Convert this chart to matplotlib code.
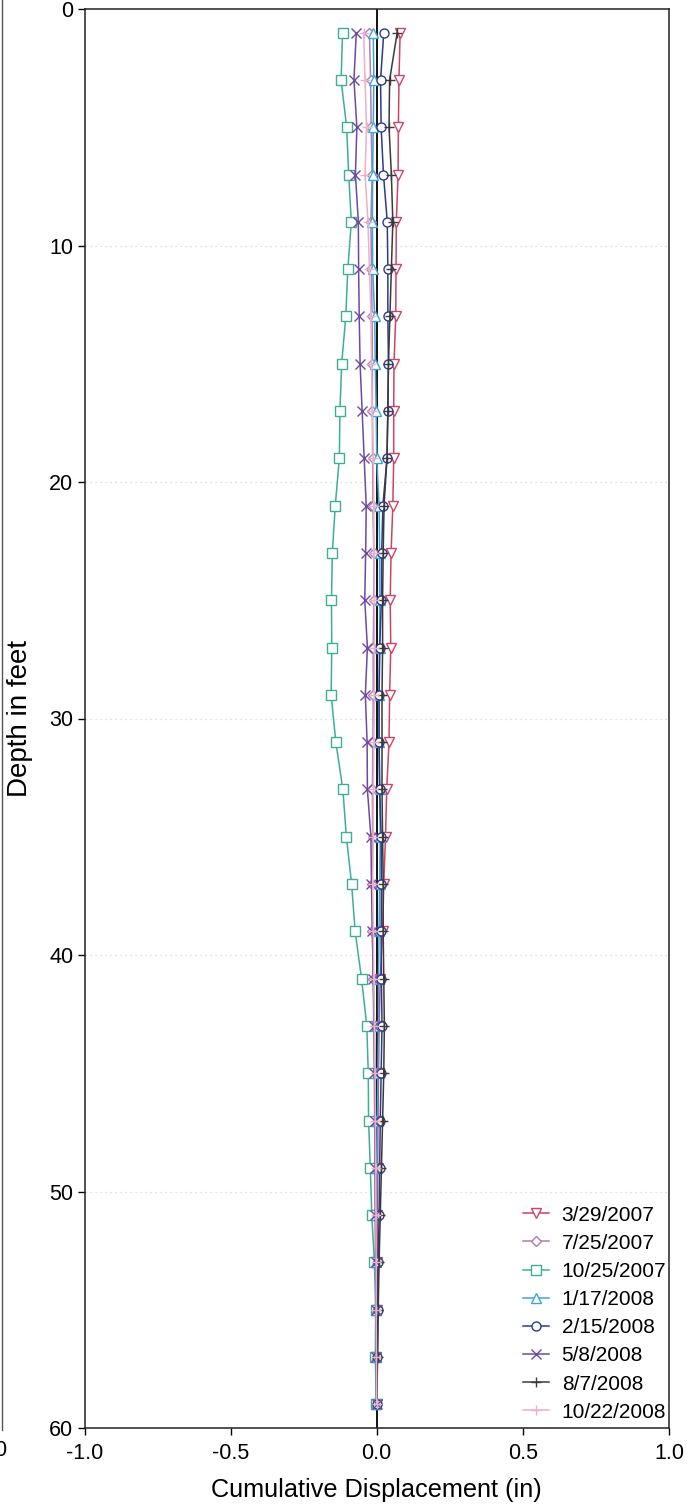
import matplotlib
matplotlib.use("Agg")
import matplotlib.pyplot as plt
from matplotlib.lines import Line2D
import numpy as np

plt.rcParams['font.family'] = ['Liberation Sans', 'DejaVu Sans']

depths = [1, 3, 5, 7, 9, 11, 13, 15, 17, 19, 21, 23, 25, 27, 29,
          31, 33, 35, 37, 39, 41, 43, 45, 47, 49, 51, 53, 55, 57, 59]

labels = ['3/29/2007', '7/25/2007', '10/25/2007', '1/17/2008',
          '2/15/2008', '5/8/2008', '8/7/2008', '10/22/2008']

s_3_29_2007 = [0.080, 0.076, 0.074, 0.073, 0.067, 0.066, 0.065, 0.059, 0.058, 0.058,
               0.055, 0.049, 0.046, 0.048, 0.044, 0.042, 0.034, 0.030, 0.024, 0.020,
               0.012, 0.008, 0.006, 0.004, 0.003, 0.002, 0.001, 0.000, -0.002, 0.000]
s_7_25_2007 = [-0.025, -0.021, -0.019, -0.016, -0.020, -0.018, -0.016, -0.015, -0.015, -0.014,
               -0.013, -0.010, -0.010, -0.012, -0.012, -0.013, -0.015, -0.014, -0.016, -0.015,
               -0.012, -0.008, -0.006, -0.005, -0.004, -0.004, -0.003, -0.002, -0.002, 0.000]
s_10_25_2007 = [-0.117, -0.122, -0.103, -0.096, -0.087, -0.099, -0.106, -0.120, -0.126, -0.128,
                -0.142, -0.152, -0.155, -0.154, -0.156, -0.140, -0.116, -0.104, -0.086, -0.074,
                -0.052, -0.034, -0.029, -0.028, -0.022, -0.017, -0.008, -0.003, -0.005, -0.001]
s_1_17_2008 = [-0.012, -0.010, -0.012, -0.014, -0.015, -0.014, -0.007, -0.005, -0.002, 0.000,
               0.008, 0.010, 0.010, 0.010, 0.008, 0.008, 0.010, 0.012, 0.010, 0.008,
               0.006, 0.006, 0.004, 0.002, 0.000, -0.002, -0.004, -0.004, -0.003, -0.002]
s_2_15_2008 = [0.024, 0.013, 0.015, 0.023, 0.036, 0.038, 0.038, 0.040, 0.038, 0.035,
               0.021, 0.017, 0.016, 0.010, 0.008, 0.008, 0.010, 0.015, 0.016, 0.015,
               0.016, 0.018, 0.015, 0.012, 0.010, 0.008, 0.005, 0.004, 0.002, 0.000]
s_5_8_2008 = [-0.070, -0.078, -0.068, -0.073, -0.063, -0.062, -0.060, -0.057, -0.050, -0.043,
              -0.036, -0.038, -0.041, -0.032, -0.039, -0.033, -0.032, -0.020, -0.018, -0.015,
              -0.012, -0.010, -0.008, -0.007, -0.006, -0.005, -0.004, -0.003, -0.002, 0.000]
s_8_7_2008 = [0.070, 0.044, 0.042, 0.050, 0.055, 0.050, 0.045, 0.040, 0.038, 0.035,
              0.025, 0.022, 0.020, 0.020, 0.018, 0.018, 0.018, 0.020, 0.022, 0.022,
              0.024, 0.026, 0.024, 0.020, 0.016, 0.012, 0.008, 0.005, 0.003, 0.000]
s_10_22_2008 = [-0.045, -0.040, -0.035, -0.040, -0.030, -0.025, -0.020, -0.018, -0.015, -0.012,
                -0.010, -0.010, -0.008, -0.008, -0.008, -0.010, -0.012, -0.012, -0.014, -0.012,
                -0.010, -0.008, -0.006, -0.005, -0.004, -0.003, -0.002, -0.002, -0.001, 0.000]

series = [s_3_29_2007, s_7_25_2007, s_10_25_2007, s_1_17_2008,
          s_2_15_2008, s_5_8_2008, s_8_7_2008, s_10_22_2008]
colors = ['#cc4466', '#b27ab4', '#3fae96', '#3fa6d6',
          '#2e3a8c', '#6b4aa0', '#3a3a3a', '#eab2c4']
markers = ['v', 'D', 's', '^', 'o', 'x', '+', '+']
msizes = [6.5, 5.0, 6.5, 6.5, 6.5, 6.5, 7.5, 7.5]

W, H = 697, 1509
fig = plt.figure(figsize=(W / 100, H / 100), dpi=100)
left, right, top, bottom = 84.5, 669, 9, 1428
ax = fig.add_axes([left / W, 1 - bottom / H, (right - left) / W, (bottom - top) / H])

for y in [10, 20, 30, 40, 50]:
    ax.axhline(y, color='#d4d4d4', lw=0.9, ls=(0, (1, 3)), zorder=0)
ax.axvline(0, color='black', lw=1.3, zorder=1)

for vals, lab, c, m, ms in zip(series, labels, colors, markers, msizes):
    ax.plot(vals, depths, color=c, lw=1.1, marker=m, ms=ms,
            mfc='white' if m not in ('x', '+') else c, mec=c, mew=1.0,
            label=lab, zorder=2)

ax.set_xlim(-1, 1)
ax.set_ylim(60, 0)
ax.set_xticks([-1.0, -0.5, 0.0, 0.5, 1.0])
ax.set_xticklabels(['-1.0', '-0.5', '0.0', '0.5', '1.0'])
ax.set_yticks([0, 10, 20, 30, 40, 50, 60])
ax.tick_params(axis='both', direction='out', length=5, width=1, labelsize=15.5)
ax.tick_params(axis='x', pad=6)
ax.tick_params(axis='y', pad=3)
for sp in ax.spines.values():
    sp.set_linewidth(1.1)
    sp.set_color('#222222')

ax.set_xlabel('Cumulative Displacement (in)', fontsize=18.2, labelpad=10)
ax.set_ylabel('Depth in feet', fontsize=20, labelpad=12)

leg = ax.legend(loc='lower right', bbox_to_anchor=(1.006, 0.0), frameon=False,
                fontsize=15, handlelength=1.25, handletextpad=0.6,
                labelspacing=0.44, borderaxespad=0.1, borderpad=0.2)

# remnants of a neighbouring chart at the left edge of the scan
fig.add_artist(Line2D([2 / W, 2 / W], [1 - 1430 / H, 1.0], color='#555555', lw=1.0))
fig.text(0.0, 1 - 1451 / H, '0', fontsize=15.5, ha='center', va='center')

fig.savefig('out.png', dpi=100)
